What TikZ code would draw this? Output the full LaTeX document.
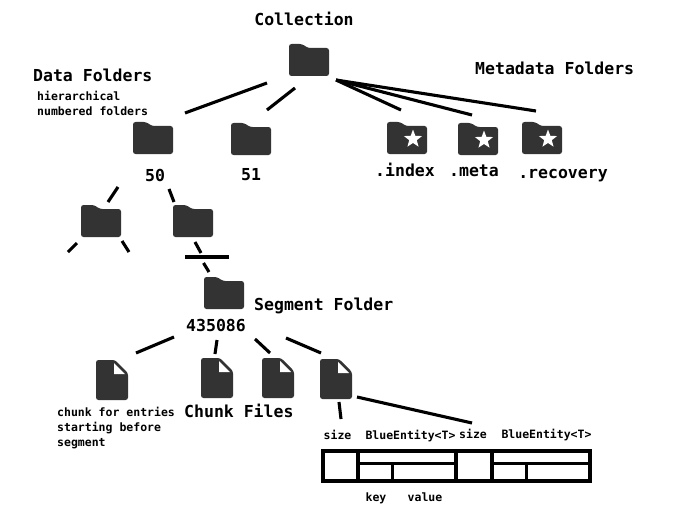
\documentclass[tikz,border=0pt]{standalone}
\usepackage{fontspec}
\usetikzlibrary{shapes.geometric}
\newfontfamily\diagfont{DejaVu Sans Mono}
\definecolor{ink}{HTML}{333333}
\tikzset{
  link/.style={black,line width=3.1pt},
  cell/.style={black,line width=3.4pt},
  box/.style={minimum width=40pt,minimum height=32pt,inner sep=0pt},
  big/.style={inner sep=0pt,text height=12pt,text depth=0pt,font=\diagfont\fontsize{16.5}{18}\selectfont\bfseries},
  small/.style={inner sep=0pt,text height=8.4pt,text depth=0pt,font=\diagfont\fontsize{11.5}{15}\selectfont\bfseries},
  badge/.style={star,star points=5,star point ratio=2.4,fill=white,inner sep=0pt,minimum size=19pt}
}
\begin{document}
\begin{tikzpicture}[x=1pt,y=-1pt]
\useasboundingbox (0,0) rectangle (682,516);
% Folders
\foreach \nm/\x/\y in {coll/309/60, d50/153/138, d51/251/139, sub1/101/221, sub2/193/221, seg/224/293, idx/407/138, meta/478/139, reco/542/138} {
  \node[box] (\nm) at (\x,\y) {};
  \fill[ink,rounded corners=2.5pt] ([shift={(-20,16)}]\nm.center) -- ([shift={(-20,-16)}]\nm.center) -- ([shift={(-7,-16)}]\nm.center) -- ([shift={(-1,-12)}]\nm.center) -- ([shift={(20,-12)}]\nm.center) -- ([shift={(20,16)}]\nm.center) -- cycle;
}
\foreach \nm in {idx,meta,reco} {
  \node[badge] (\nm star) at ([shift={(6,1)}]\nm.center) {};
}
% Files
\foreach \nm/\x/\y in {f1/112/380, f2/217/378, f3/278/378, f4/336/379} {
  \node[box,minimum width=32pt,minimum height=40pt] (\nm) at (\x,\y) {};
  \fill[ink,rounded corners=2.5pt] ([shift={(-16,20)}]\nm.center) -- ([shift={(-16,-20)}]\nm.center) -- ([shift={(3,-20)}]\nm.center) -- ([shift={(16,-7)}]\nm.center) -- ([shift={(16,20)}]\nm.center) -- cycle;
  \fill[white] ([shift={(2,-17)}]\nm.center) -- ([shift={(2,-6)}]\nm.center) -- ([shift={(13,-6)}]\nm.center) -- cycle;
}
% Labels
\node[big] (colllab) at (304,20) {Collection};
\node[big,anchor=west] (datalab) at (33,76) {Data Folders};
\node[small,anchor=west] (hierlab) at (37,96) {hierarchical};
\node[small,anchor=west] (numlab) at (37,111) {numbered folders};
\node[big,anchor=west] (metalab) at (475,69) {Metadata Folders};
\node[big] (lab50) at (155,175) {50};
\node[big] (lab51) at (251,174) {51};
\node[big] (idxlab) at (405,170) {.index};
\node[big] (metaname) at (474,170) {.meta};
\node[big] (recolab) at (563,172) {.recovery};
\node[big] (seglab) at (216,325) {435086};
\node[big,anchor=west] (segname) at (254,304) {Segment Folder};
\node[big,anchor=west] (chunklab) at (184,411) {Chunk Files};
\node[small,anchor=west] (ch1) at (57,412) {chunk for entries};
\node[small,anchor=west] (ch2) at (57,427) {starting before};
\node[small,anchor=west] (ch3) at (57,442) {segment};
\node[small] (size1) at (337.5,435) {size};
\node[small] (blue1) at (410.5,435) {BlueEntity<T>};
\node[small] (size2) at (473,434) {size};
\node[small] (blue2) at (546.5,434) {BlueEntity<T>};
\node[small] (keylab) at (376,497) {key};
\node[small] (vallab) at (425,497) {value};
% Free ends
\coordinate (stubl) at (68,252);
\coordinate (stubr) at (129,252);
\coordinate (cuta) at (201,253);
\coordinate (cutb) at (203.5,263);
\coordinate (barl) at (185,257);
\coordinate (barr) at (229,257);
% Connectors
\draw[link] ([shift={(-42,23)}]coll.center) -- ([shift={(32,-25)}]d50.center);
\draw[link] ([shift={(-14,28)}]coll.center) -- ([shift={(16,-29)}]d51.center);
\draw[link] ([shift={(27,20)}]coll.center) -- ([shift={(-6,-28)}]idx.center);
\draw[link] ([shift={(27,20)}]coll.center) -- ([shift={(-6,-24)}]meta.center);
\draw[link] ([shift={(27,20)}]coll.center) -- ([shift={(-6,-27)}]reco.center);
\draw[link] ([shift={(-35,49)}]d50.center) -- ([shift={(7,-19)}]sub1.center);
\draw[link] ([shift={(16,51)}]d50.center) -- ([shift={(-19,-19)}]sub2.center);
\draw[link] ([shift={(-24,22)}]sub1.center) -- (stubl);
\draw[link] ([shift={(21,20)}]sub1.center) -- (stubr);
\draw[link] ([shift={(2,21)}]sub2.center) -- (cuta);
\draw[link] (barl) -- (barr);
\draw[link] (cutb) -- ([shift={(-15,-21)}]seg.center);
\draw[link] ([shift={(-42,12)}]seglab.center) -- ([shift={(24,-27)}]f1.center);
\draw[link] ([shift={(1,15)}]seglab.center) -- ([shift={(-2,-24)}]f2.center);
\draw[link] ([shift={(39,14)}]seglab.center) -- ([shift={(-8,-25)}]f3.center);
\draw[link] ([shift={(70,13)}]seglab.center) -- ([shift={(-15,-26)}]f4.center);
\draw[link] ([shift={(3,23)}]f4.center) -- ([shift={(3.5,-16)}]size1.center);
\draw[link] ([shift={(21,18)}]f4.center) -- ([shift={(-1,-11)}]size2.center);
% Record layout
\draw[cell] (323,451) rectangle (590,481);
\foreach \x in {358,456,492} {
  \draw[cell] (\x,451) -- (\x,481);
}
\foreach \x/\xx/\xm in {358/456/392.5, 492/590/526.5} {
  \draw[cell] (\x,463.5) -- (\xx,463.5);
  \draw[cell] (\xm,463.5) -- (\xm,481);
}
\end{tikzpicture}
\end{document}
